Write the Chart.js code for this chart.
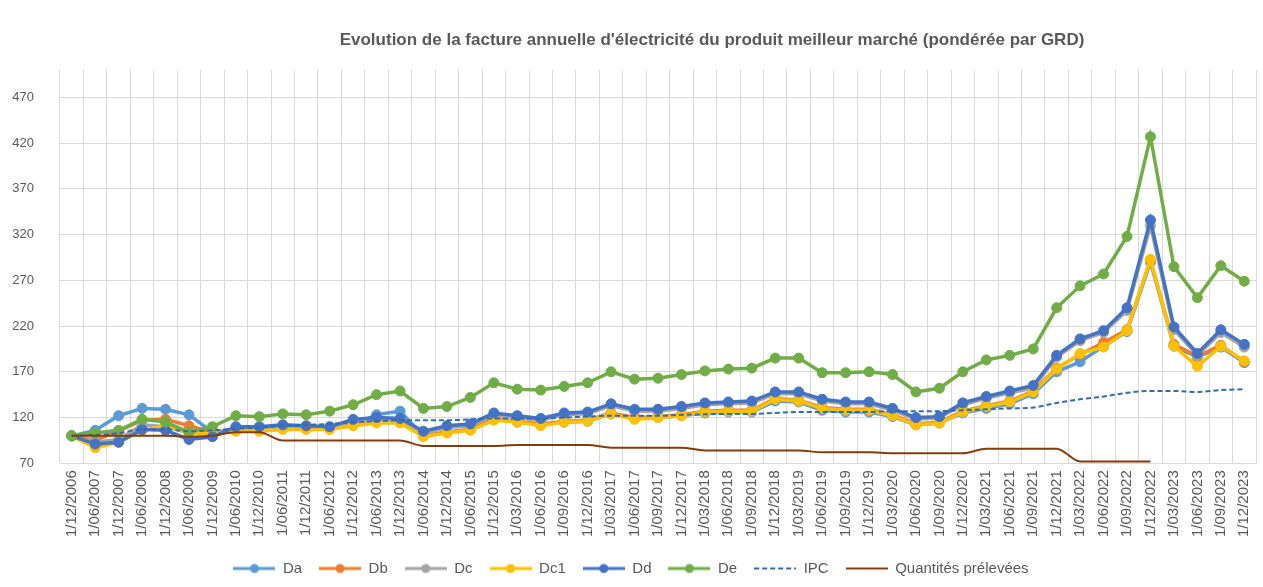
<!DOCTYPE html>
<html>
<head>
<meta charset="utf-8">
<script src="https://cdn.jsdelivr.net/npm/chart.js@4.4.0/dist/chart.umd.min.js"></script>
<style>
  body { margin: 0; background: #fff; }
  #wrap { width: 1263px; height: 587px; }
</style>
</head>
<body>
<div id="wrap"><canvas id="factureChart" width="1263" height="587"></canvas></div>
<script>
const labels = ['1/12/2006', '1/06/2007', '1/12/2007', '1/06/2008', '1/12/2008', '1/06/2009', '1/12/2009',
  '1/06/2010', '1/12/2010', '1/06/2011', '1/12/2011', '1/06/2012', '1/12/2012', '1/06/2013', '1/12/2013',
  '1/06/2014', '1/12/2014', '1/06/2015', '1/12/2015', '1/03/2016', '1/06/2016', '1/09/2016', '1/12/2016',
  '1/03/2017', '1/06/2017', '1/09/2017', '1/12/2017', '1/03/2018', '1/06/2018', '1/09/2018', '1/12/2018',
  '1/03/2019', '1/06/2019', '1/09/2019', '1/12/2019', '1/03/2020', '1/06/2020', '1/09/2020', '1/12/2020',
  '1/03/2021', '1/06/2021', '1/09/2021', '1/12/2021', '1/03/2022', '1/06/2022', '1/09/2022', '1/12/2022',
  '1/03/2023', '1/06/2023', '1/09/2023', '1/12/2023'];

const Da = [100, 106, 122, 130, 129, 123, 104, 106, 106, 108, 108, 108, 112, 123, 127, 100, 104, 107, 118, 115,
  112, 115, 116, 124, 119, 120, 122, 125, 126, 126, 138, 137, 128, 126, 126, 121, 112, 114, 125, 130, 135, 146,
  170, 181, 198, 214, 290, 198, 186, 197, 180];
const Db = [100, 95, 105, 117, 118, 111, 104, 107, 107, 108, 108, 108, 112, 116, 116, 100, 104, 107, 119, 116,
  113, 116, 117, 125, 120, 121, 123, 127, 128, 128, 141, 139, 131, 129, 129, 123, 113, 115, 127, 133, 138, 149,
  174, 189, 202, 216, 292, 200, 187, 199, 181];
const Dc = [100, 93, 96, 112, 110, 103, 101, 108, 108, 110, 109, 108, 116, 118, 118, 103, 109, 111, 123, 120,
  117, 123, 124, 133, 127, 127, 130, 134, 135, 136, 146, 146, 138, 135, 135, 128, 118, 120, 134, 141, 147, 152,
  186, 204, 213, 237, 330, 216, 188, 213, 197];
const Dc1 = [100, 87, 93, 106, 111, 103, 102, 105, 105, 107, 107, 107, 111, 114, 114, 99, 103, 106, 117, 115,
  111, 115, 116, 124, 118, 120, 122, 126, 127, 127, 140, 138, 130, 128, 128, 122, 112, 114, 126, 132, 137, 148,
  173, 190, 197, 215, 293, 198, 176, 198, 182];
const Dd = [100, 91, 93, 107, 106, 96, 99, 110, 110, 112, 111, 110, 118, 120, 119, 105, 111, 113, 125, 122,
  119, 125, 126, 135, 129, 129, 132, 136, 137, 138, 148, 148, 140, 137, 137, 130, 120, 121, 136, 143, 149, 155,
  188, 206, 215, 240, 336, 219, 190, 216, 200];
const De = [100, 103, 106, 118, 115, 104, 110, 122, 121, 124, 123, 127, 134, 145, 149, 130, 132, 142, 158, 151,
  150, 154, 158, 170, 162, 163, 167, 171, 173, 174, 185, 185, 169, 169, 170, 167, 148, 152, 170, 183, 188, 195,
  240, 264, 277, 318, 427, 285, 251, 286, 269];
const IPC = [100, 101, 103, 107, 107, 105, 106, 108, 109, 111, 112, 113, 115, 116, 117, 117, 117, 118, 119, 119,
  119, 120, 121, 122, 122, 122, 123, 123.5, 124, 124, 125, 126, 126, 126, 126, 127, 127, 127, 128, 129, 130, 131,
  136, 140, 143, 147, 149, 149, 148, 150, 151];
const quantites = [100, 100, 100, 100, 100, 99, 100, 104, 104, 95, 95, 95, 95, 95, 95, 89, 89, 89, 89, 90,
  90, 90, 90, 87, 87, 87, 87, 84, 84, 84, 84, 84, 82, 82, 82, 81, 81, 81, 81, 86, 86, 86, 86, 72, 72, 72, 72,
  null, null, null, null];
const yTicks = [70, 120, 170, 220, 270, 320, 370, 420, 470];

const chartTitle = "Evolution de la facture annuelle d'électricité du produit meilleur marché (pondérée par GRD)";
const textColor = '#595959';
const gridColor = '#D9D9D9';
const fontFamily = "'Liberation Sans', Arial, sans-serif";

// little legend pictures: a line with (or without) a dot in the middle
const legendIcon = (color, width, dash, dot) => {
  const c = document.createElement('canvas');
  c.width = 42;
  c.height = 12;
  const g = c.getContext('2d');
  g.strokeStyle = color;
  g.lineWidth = width;
  g.setLineDash(dash);
  g.beginPath();
  g.moveTo(0, 6);
  g.lineTo(42, 6);
  g.stroke();
  if (dot) {
    g.fillStyle = color;
    g.beginPath();
    g.arc(21, 6, 4.5, 0, Math.PI * 2);
    g.fill();
  }
  return c;
};

const markerSeries = (label, data, color, order) => ({
  label: label,
  data: data,
  borderColor: color,
  backgroundColor: color,
  borderWidth: 3.5,
  pointRadius: 5,
  pointBorderWidth: 1,
  pointBackgroundColor: color,
  pointBorderColor: color,
  tension: 0,
  order: order,
  legendIcon: legendIcon(color, 3, [], true)
});

const titlePlugin = {
  id: 'excelTitle',
  afterDraw(chart) {
    const ctx = chart.ctx;
    ctx.save();
    ctx.font = "bold 17px " + fontFamily;
    ctx.fillStyle = textColor;
    ctx.textAlign = 'center';
    ctx.textBaseline = 'middle';
    ctx.fillText(chartTitle, 712, 40);
    ctx.restore();
  }
};

document.addEventListener('DOMContentLoaded', () => {
  const ctx = document.getElementById('factureChart').getContext('2d');

  new Chart(ctx, {
    type: 'line',
    data: {
      labels: labels,
      datasets: [
        markerSeries('Da', Da, '#5B9BD5', 8),
        markerSeries('Db', Db, '#ED7D31', 7),
        markerSeries('Dc', Dc, '#A5A5A5', 6),
        markerSeries('Dc1', Dc1, '#FFC000', 5),
        markerSeries('Dd', Dd, '#4472C4', 4),
        markerSeries('De', De, '#70AD47', 3),
        {
          label: 'IPC',
          data: IPC,
          borderColor: '#2E6DB0',
          backgroundColor: '#2E6DB0',
          borderWidth: 2,
          borderDash: [5, 3],
          pointRadius: 0,
          cubicInterpolationMode: 'monotone',
          order: 2,
          legendIcon: legendIcon('#2E6DB0', 2, [5, 3], false)
        },
        {
          label: 'Quantités prélevées',
          data: quantites,
          borderColor: '#843C0C',
          backgroundColor: '#843C0C',
          borderWidth: 2,
          pointRadius: 0,
          cubicInterpolationMode: 'monotone',
          spanGaps: false,
          order: 1,
          legendIcon: legendIcon('#843C0C', 2, [], false)
        }
      ]
    },
    options: {
      responsive: false,
      animation: false,
      layout: { padding: { top: 70, left: 6, right: 7, bottom: 1 } },
      plugins: {
        title: { display: false },
        tooltip: { enabled: false },
        legend: {
          position: 'bottom',
          labels: {
            usePointStyle: true,
            pointStyleWidth: 42,
            padding: 17,
            color: textColor,
            font: { family: fontFamily, size: 15 },
            sort: (a, b) => a.datasetIndex - b.datasetIndex,
            generateLabels: (chart) => {
              const items = Chart.defaults.plugins.legend.labels.generateLabels(chart);
              items.forEach(item => {
                item.pointStyle = chart.data.datasets[item.datasetIndex].legendIcon;
              });
              return items;
            }
          }
        }
      },
      scales: {
        x: {
          offset: true,
          grid: { color: gridColor, offset: true, drawTicks: false },
          border: { color: gridColor },
          afterFit: (scale) => {
            scale.paddingRight = 0;
          },
          ticks: {
            autoSkip: false,
            minRotation: 90,
            maxRotation: 90,
            padding: 7,
            color: textColor,
            font: { family: fontFamily, size: 15 }
          }
        },
        y: {
          min: 70,
          max: 500,
          grid: { color: gridColor, drawTicks: false },
          border: { display: false },
          afterBuildTicks: (scale) => {
            scale.ticks = yTicks.map(v => ({ value: v }));
          },
          afterFit: (scale) => {
            scale.width = 54;
          },
          ticks: {
            padding: 26,
            color: textColor,
            font: { family: fontFamily, size: 13 }
          }
        }
      }
    },
    plugins: [titlePlugin]
  });
});
</script>
</body>
</html>
